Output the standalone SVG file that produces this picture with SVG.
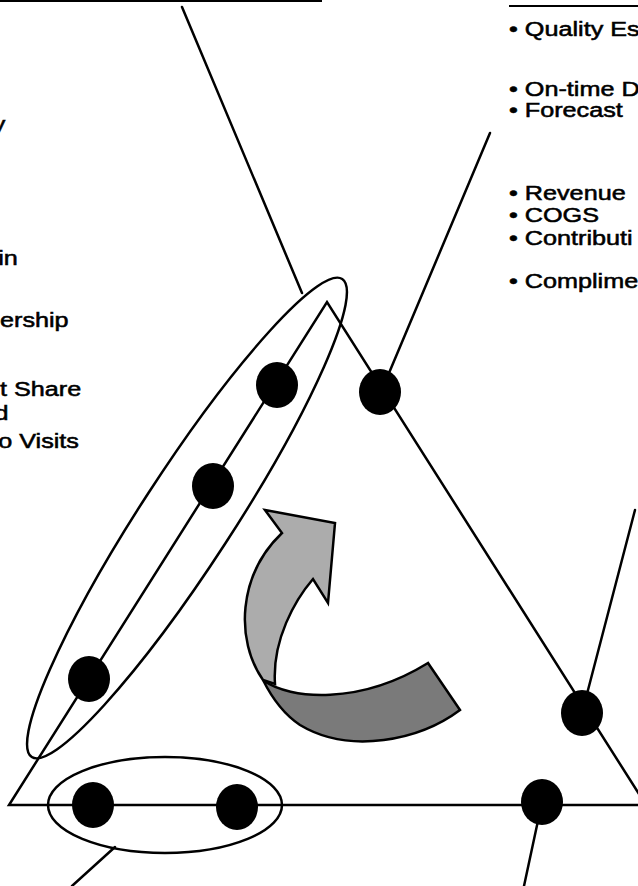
<svg xmlns="http://www.w3.org/2000/svg" width="638" height="886" viewBox="0 0 638 886">
<style>
.ln{stroke:#000;stroke-width:2.5;fill:none;stroke-linecap:round}
.grp{stroke:#000;stroke-width:2.5;fill:none}
.node{fill:#000}
.txt{font-family:"Liberation Sans",Arial,Helvetica,sans-serif;font-size:21px;fill:#000;stroke:#000;stroke-width:0.55}
.arrow{stroke:#000;stroke-width:2.5;stroke-linejoin:miter}
</style>
<rect width="638" height="886" fill="#fff"/>

<g id="headings">
<line x1="0" y1="1" x2="322" y2="1" stroke="#000" stroke-width="2"/>
<line x1="509" y1="6" x2="638" y2="6" stroke="#000" stroke-width="2"/>
</g>

<g id="left-text" class="txt" transform="scale(1.2,1)">
<text x="-6" y="131">y</text>
<text x="-1.5" y="265">in</text>
<text x="0" y="327">ership</text>
<text x="0" y="396">t Share</text>
<text x="-4.5" y="420">d</text>
<text x="-1.5" y="448">o Visits</text>
</g>

<g id="right-text" class="txt" transform="translate(509,0) scale(1.2,1)">
<text x="0" y="36">• Quality Es</text>
<text x="0" y="96">• On-time D</text>
<text x="0" y="117">• Forecast</text>
<text x="0" y="200">• Revenue</text>
<text x="0" y="222">• COGS</text>
<text x="0" y="245">• Contributi</text>
<text x="0" y="288">• Complime</text>
</g>

<g id="triangle">
<path class="ln" d="M646,805 L327,302 L9,805 Z"/>
</g>

<g id="cycle-arrow">
<path class="arrow" fill="#7a7a7a" d="M263,680 C290,700 360,705 428,663 L460,710 C420,740 350,755 300,725 C285,715 272,698 263,680 Z"/>
<path class="arrow" fill="#acacac" d="M265,510 L335,523 L328,603 L313,579 C295,600 272,640 275,684 L263,680 C235,640 238,575 282,533 Z"/>
</g>

<g id="connectors">
<line class="ln" x1="182" y1="7" x2="302" y2="293"/>
<line class="ln" x1="490" y1="133" x2="381" y2="392"/>
<line class="ln" x1="635" y1="510" x2="582" y2="713"/>
<line class="ln" x1="542" y1="802" x2="524" y2="886"/>
<line class="ln" x1="115" y1="847" x2="72" y2="886"/>
</g>

<g id="group-left-side">
<ellipse class="grp" cx="187" cy="518" rx="285" ry="46" transform="rotate(-57 187 518)"/>
</g>
<g id="group-bottom">
<ellipse class="grp" cx="165" cy="805" rx="117" ry="48"/>
</g>

<g id="node-left-1"><ellipse class="node" cx="277" cy="385" rx="21" ry="23"/></g>
<g id="node-left-2"><ellipse class="node" cx="213" cy="486" rx="21" ry="23"/></g>
<g id="node-left-3"><ellipse class="node" cx="89" cy="679" rx="21" ry="23"/></g>
<g id="node-right-1"><ellipse class="node" cx="380" cy="392" rx="21" ry="23"/></g>
<g id="node-right-2"><ellipse class="node" cx="582" cy="713" rx="21" ry="23"/></g>
<g id="node-bottom-1"><ellipse class="node" cx="93" cy="805" rx="21" ry="23"/></g>
<g id="node-bottom-2"><ellipse class="node" cx="237" cy="807" rx="21" ry="23"/></g>
<g id="node-bottom-3"><ellipse class="node" cx="542" cy="802" rx="21" ry="23"/></g>
</svg>
